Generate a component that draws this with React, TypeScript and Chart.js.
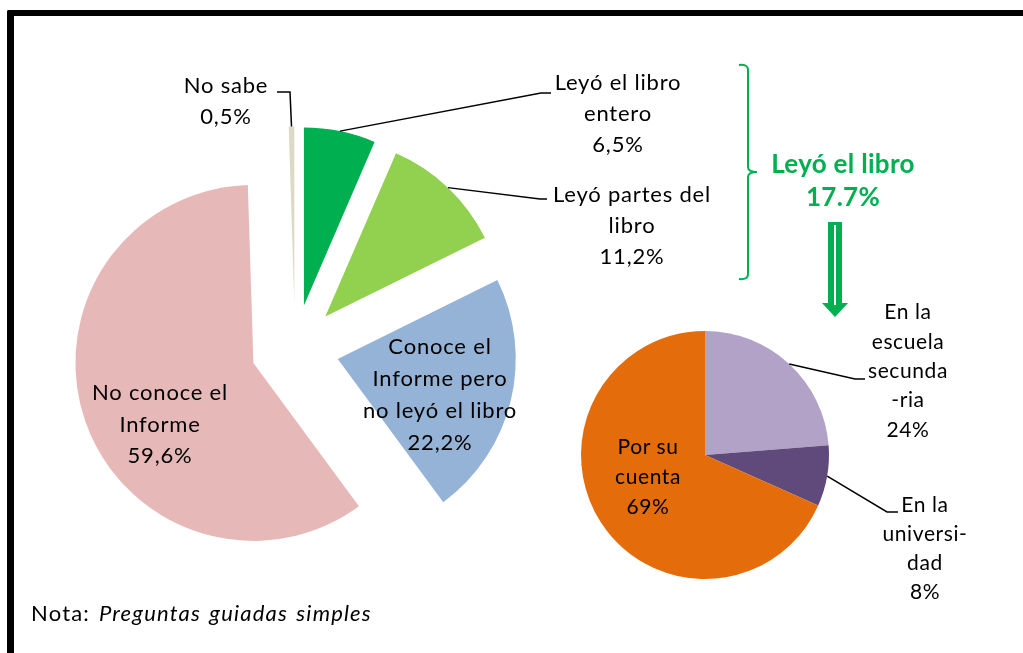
import React, { useEffect, useRef } from "react";
import { Chart, registerables } from "chart.js";

Chart.register(...registerables);

// ---- data ----
const mainLabels = [
  "Leyó el libro entero",
  "Leyó partes del libro",
  "Conoce el Informe pero no leyó el libro",
  "No conoce el Informe",
  "No sabe",
];
const mainValues = [6.5, 11.2, 22.2, 59.6, 0.5];
const mainColors = ["#00B050", "#92D050", "#95B3D7", "#E6B9B8", "#DDD9C4"];
const mainLabelLines = [
  ["Leyó el libro", "entero"],
  ["Leyó partes del", "libro"],
  ["Conoce el", "Informe pero", "no leyó el libro"],
  ["No conoce el", "Informe"],
  ["No sabe"],
];

const subLabels = ["En la escuela secundaria", "En la universidad", "Por su cuenta"];
const subValues = [24, 8, 69];
const subColors = ["#B3A2C7", "#604A7B", "#E46C0A"];
const subLabelLines = [
  ["En la", "escuela", "secunda", "-ria"],
  ["En la", "universi-", "dad"],
  ["Por su", "cuenta"],
];

const summaryTitle = "Leyó el libro";
const noteLabel = "Nota:";
const noteText = "Preguntas guiadas simples";

// ---- layout (positions only) ----
const FONT = 'Lato, "Carlito", Calibri, sans-serif';
const mainLabelPos = [
  { cx: 618, cy: 81, lh: 31 },
  { cx: 632, cy: 193, lh: 31 },
  { cx: 440, cy: 346, lh: 32 },
  { cx: 160, cy: 392, lh: 31.5 },
  { cx: 226, cy: 84, lh: 31 },
];
const subLabelPos = [
  { cx: 908, cy: 311, lh: 29.3 },
  { cx: 925, cy: 503, lh: 29 },
  { cx: 648, cy: 446, lh: 30 },
];
// leader line end points (label side), per slice; null = none
const mainLeaders: (number[][] | null)[] = [
  [[541, 93], [551, 93]],
  [[540, 199], [547, 199]],
  null,
  null,
  [[290, 92], [277, 92]],
];
const subLeaders: (number[][] | null)[] = [
  [[855, 379], [865, 379]],
  [[887, 512], [898, 512]],
  null,
];

const fmtMain = (v: number) => v.toFixed(1).replace(".", ",") + "%";
const fmtSub = (v: number) => `${v}%`;

function makePlugin(offsets: number[], leaders: (number[][] | null)[], extra?: (ctx: CanvasRenderingContext2D) => void) {
  return {
    id: "explodeLeaders",
    beforeDatasetsDraw(chart: any) {
      const ctx = chart.ctx;
      const meta = chart.getDatasetMeta(0);
      meta.data.forEach((el: any, i: number) => {
        const mid = (el.startAngle + el.endAngle) / 2;
        const off = offsets[i] || 0;
        ctx.save();
        ctx.translate(Math.cos(mid) * off, Math.sin(mid) * off);
        el.draw(ctx);
        ctx.restore();
      });
      return false;
    },
    afterDraw(chart: any) {
      const ctx = chart.ctx;
      const meta = chart.getDatasetMeta(0);
      ctx.save();
      ctx.strokeStyle = "#000";
      ctx.lineWidth = 1.5;
      meta.data.forEach((el: any, i: number) => {
        const pts = leaders[i];
        if (!pts) return;
        const mid = (el.startAngle + el.endAngle) / 2;
        const r = (offsets[i] || 0) + el.outerRadius;
        const sx = el.x + Math.cos(mid) * r;
        const sy = el.y + Math.sin(mid) * r;
        ctx.beginPath();
        ctx.moveTo(sx, sy);
        pts.forEach((p) => ctx.lineTo(p[0], p[1]));
        ctx.stroke();
      });
      ctx.restore();
      if (extra) extra(ctx);
    },
  };
}

function drawDecor(ctx: CanvasRenderingContext2D) {
  const green = "#00B050";
  ctx.save();
  // bracket
  ctx.strokeStyle = green;
  ctx.lineWidth = 2;
  ctx.beginPath();
  ctx.moveTo(739, 65);
  ctx.quadraticCurveTo(748, 64, 748, 70);
  ctx.lineTo(748, 167);
  ctx.quadraticCurveTo(748, 172, 757, 172);
  ctx.moveTo(757, 172);
  ctx.quadraticCurveTo(748, 172, 748, 177);
  ctx.lineTo(748, 274);
  ctx.quadraticCurveTo(748, 280, 739, 279);
  ctx.stroke();
  // arrow
  ctx.fillStyle = green;
  ctx.beginPath();
  ctx.moveTo(828, 222);
  ctx.lineTo(842, 222);
  ctx.lineTo(842, 303);
  ctx.lineTo(848, 303);
  ctx.lineTo(835, 317);
  ctx.lineTo(822, 303);
  ctx.lineTo(828, 303);
  ctx.closePath();
  ctx.fill();
  ctx.strokeStyle = "#fff";
  ctx.lineWidth = 2;
  ctx.beginPath();
  ctx.moveTo(835, 225);
  ctx.lineTo(835, 305);
  ctx.stroke();
  ctx.restore();
}

function Label({ lines, cx, cy, lh, size = 22, weight = 400, color = "#000", ls = 0.8 }: any) {
  return (
    <div
      style={{
        position: "absolute",
        left: cx - 150,
        width: 300,
        top: cy - lh / 2,
        textAlign: "center",
        lineHeight: `${lh}px`,
        fontSize: size,
        fontFamily: FONT,
        fontWeight: weight,
        color,
        letterSpacing: ls,
        whiteSpace: "nowrap",
      }}
    >
      {lines.map((l: string, i: number) => (
        <div key={i}>{l}</div>
      ))}
    </div>
  );
}

export default function App() {
  const mainRef = useRef<HTMLCanvasElement>(null);
  const subRef = useRef<HTMLCanvasElement>(null);

  useEffect(() => {
    document.body.style.margin = "0";
    const main = new Chart(mainRef.current!, {
      type: "pie",
      data: {
        labels: mainLabels,
        datasets: [{ data: mainValues, backgroundColor: mainColors, borderWidth: 0 }],
      },
      options: {
        responsive: false,
        animation: false,
        radius: 178,
        layout: { padding: { left: 0, right: 433, top: 44, bottom: 0 } },
        plugins: { legend: { display: false }, tooltip: { enabled: false } },
        events: [],
      } as any,
      plugins: [makePlugin([44, 44, 44, 44, 44], mainLeaders)],
    });
    const sub = new Chart(subRef.current!, {
      type: "pie",
      data: {
        labels: subLabels,
        datasets: [{ data: subValues, backgroundColor: subColors, borderWidth: 0 }],
      },
      options: {
        responsive: false,
        animation: false,
        radius: 124,
        layout: { padding: { left: 387, right: 0, top: 257, bottom: 0 } },
        plugins: { legend: { display: false }, tooltip: { enabled: false } },
        events: [],
      } as any,
      plugins: [makePlugin([0, 0, 0], subLeaders, drawDecor)],
    });
    return () => {
      main.destroy();
      sub.destroy();
    };
  }, []);

  const total = (mainValues[0] + mainValues[1]).toFixed(1) + "%";

  return (
    <div style={{ position: "absolute", left: 0, top: 0, width: 1023, height: 653, overflow: "hidden", background: "#fff" }}>
      <div
        style={{
          position: "absolute",
          left: 7,
          top: 10,
          width: 1016,
          height: 643,
          borderTop: "6px solid #000",
          borderLeft: "7px solid #000",
          borderTopLeftRadius: 2,
          boxSizing: "border-box",
        }}
      />
      <canvas ref={mainRef} width={1023} height={653} style={{ position: "absolute", left: 0, top: 0 }} />
      <canvas ref={subRef} width={1023} height={653} style={{ position: "absolute", left: 0, top: 0 }} />
      {mainLabelLines.map((lines, i) => (
        <Label key={"m" + i} lines={[...lines, fmtMain(mainValues[i])]} {...mainLabelPos[i]} />
      ))}
      {subLabelLines.map((lines, i) => (
        <Label key={"s" + i} lines={[...lines, fmtSub(subValues[i])]} {...subLabelPos[i]} size={21} ls={0.6} />
      ))}
      <Label lines={[summaryTitle, total]} cx={843} cy={163} lh={33} size={26} weight={700} color="#00B050" ls={0.3} />
      <div
        style={{
          position: "absolute",
          left: 31,
          top: 613 - 15,
          lineHeight: "30px",
          fontSize: 22,
          fontFamily: FONT,
          letterSpacing: 1.2,
          wordSpacing: 2,
          whiteSpace: "nowrap",
        }}
      >
        {noteLabel} <i>{noteText}</i>
      </div>
    </div>
  );
}
